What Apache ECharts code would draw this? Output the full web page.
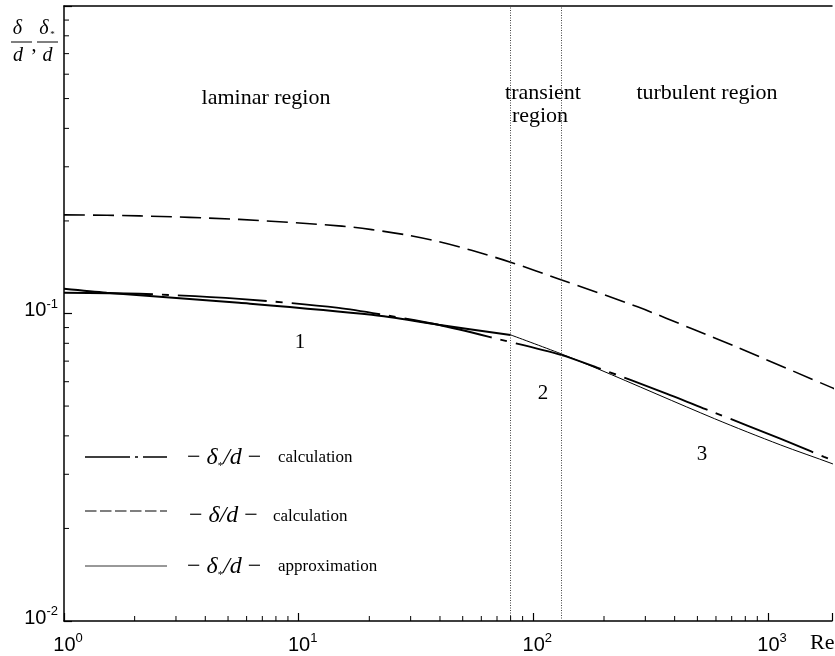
<!DOCTYPE html>
<html>
<head>
<meta charset="utf-8">
<script src="https://cdn.jsdelivr.net/npm/echarts@6/dist/echarts.min.js"></script>
<style>html,body{margin:0;padding:0;background:#fff;}#c{width:835px;height:656px;}</style>
</head>
<body>
<div id="c"></div>
<script>
// ---- data ----
const deltaRe   = [1, 2.1, 5.58, 14.8, 20.5, 28.6, 39.4, 54.5, 80.5, 131, 278, 486, 740, 1870, 2000];
const deltaCalc = [0.2093, 0.2077, 0.2023, 0.1928, 0.1874, 0.1802, 0.1713, 0.1605, 0.1466, 0.1288, 0.1051, 0.0885, 0.0776, 0.0574, 0.0561];

const dispRe   = [1, 2.1, 5.58, 14.8, 24.2, 39.4, 73, 131, 188, 362, 591, 1127, 1732, 2000];
const dispCalc = [0.1168, 0.1159, 0.1116, 0.1043, 0.0983, 0.0919, 0.0821, 0.0734, 0.0666, 0.0552, 0.0476, 0.0392, 0.0342, 0.0327];

const approxLamRe = [1, 1.52, 5.58, 20.5, 39.4, 80];
const approxLam   = [0.1203, 0.1168, 0.1083, 0.0990, 0.0919, 0.0852];

const approxTurbRe = [80, 131, 188, 591, 1127, 1873, 2000];
const approxTurb   = [0.0852, 0.0740, 0.0661, 0.0455, 0.0374, 0.0325, 0.0318];

const regionBounds = [80, 131];

const minorX = [2,3,4,5,6,7,8,9,20,30,40,50,60,70,80,90,200,300,400,500,600,700,800,900];
const minorY = [0.02,0.03,0.04,0.05,0.06,0.07,0.08,0.09,0.2,0.3,0.4,0.5,0.6,0.7,0.8,0.9];

const xRange = [1, 1873];
const yRange = [0.01, 1];

// ---- chart ----
const SERIF = '"Liberation Serif", "Times New Roman", serif';
const SANS = '"Liberation Sans", Arial, sans-serif';
const zip = (a, b) => a.map((v, i) => [v, b[i]]);
const chart = echarts.init(document.getElementById('c'), null, {renderer: 'canvas'});

function powLabel(v) {
  const l = Math.log10(v);
  const e = Math.round(l);
  if (Math.abs(l - e) > 1e-6) return '';
  return '{b|10}{s|' + e + '}';
}
const labelRich = {
  b: {fontSize: 20, fontFamily: SANS, color: '#000', lineHeight: 26},
  s: {fontSize: 13, fontFamily: SANS, color: '#000', lineHeight: 12, verticalAlign: 'top'}
};

function txt(x, y, text, font, align) {
  return {type: 'text', x: x, y: y, silent: true,
    style: {text: text, font: font, fill: '#000', textAlign: align || 'center', textVerticalAlign: 'middle',
            align: align || 'center', verticalAlign: 'middle'}};
}
function ln(x1, y1, x2, y2, w, dash, color) {
  return {type: 'line', silent: true, shape: {x1: x1, y1: y1, x2: x2, y2: y2},
    style: {stroke: color || '#000', lineWidth: w, lineDash: dash || null}};
}
const mathRich = {
  m: {fontFamily: SERIF, fontSize: 24, color: '#000', lineHeight: 28},
  i: {fontFamily: SERIF, fontStyle: 'italic', fontSize: 24, color: '#000', lineHeight: 28},
  s: {fontFamily: SERIF, fontSize: 11, color: '#000', lineHeight: 10, verticalAlign: 'bottom'}
};
function mathTxt(x, y, text) {
  return {type: 'text', x: x, y: y, silent: true,
    style: {text: text, rich: mathRich, fill: '#000', textAlign: 'left', textVerticalAlign: 'middle',
            align: 'left', verticalAlign: 'middle'}};
}

const tickSeries = (data, dir) => ({
  type: 'custom', silent: true, clip: false, z: 5,
  data: data,
  renderItem: function (params, api) {
    const p = api.coord([api.value(0), api.value(1)]);
    const shape = dir === 'x'
      ? {x1: p[0], y1: p[1], x2: p[0], y2: p[1] - 5}
      : {x1: p[0], y1: p[1], x2: p[0] + 5, y2: p[1]};
    return {type: 'line', shape: shape, style: {stroke: '#000', lineWidth: 1}};
  }
});

const option = {
  animation: false,
  backgroundColor: '#fff',
  grid: {left: 64, right: 0, top: 6, bottom: 35, show: false},
  xAxis: [{
    type: 'log', logBase: 10, min: xRange[0], max: xRange[1],
    axisLine: {show: true, lineStyle: {color: '#000', width: 1.5}},
    axisTick: {show: true, inside: true, length: 8, lineStyle: {color: '#000', width: 1.2}},
    splitLine: {show: false},
    axisLabel: {show: true, margin: 11, formatter: powLabel, rich: labelRich, padding: [0, 0, 0, 8]}
  }, {
    type: 'value', position: 'top', min: 0, max: 1,
    axisLine: {show: true, lineStyle: {color: '#000', width: 1.5}},
    axisTick: {show: false}, axisLabel: {show: false}, splitLine: {show: false}
  }],
  yAxis: {
    type: 'log', logBase: 10, min: yRange[0], max: yRange[1],
    axisLine: {show: true, lineStyle: {color: '#000', width: 1.5}},
    axisTick: {show: true, inside: true, length: 8, lineStyle: {color: '#000', width: 1.2}},
    splitLine: {show: false},
    axisLabel: {show: true, margin: 6, formatter: v => (Math.abs(v - 1) < 1e-9 ? '' : powLabel(v)), rich: labelRich, padding: [0, 0, 6, 0]}
  },
  series: [
    {
      name: 'delta calc', type: 'line', data: zip(deltaRe, deltaCalc), showSymbol: false, symbol: 'none',
      smooth: 0.3, lineStyle: {color: '#000', width: 1.6, type: [21, 8]}, z: 3,
      markLine: {
        silent: true, symbol: ['none', 'none'], label: {show: false},
        lineStyle: {color: '#444', width: 1, type: [1, 1.5]},
        data: regionBounds.map(v => ({xAxis: v}))
      }
    },
    {
      name: 'delta* calc', type: 'line', data: zip(dispRe, dispCalc), showSymbol: false, symbol: 'none',
      smooth: 0.3, lineStyle: {color: '#000', width: 1.9, type: [89, 9, 7, 9]}, z: 3
    },
    {
      name: 'delta* approx laminar', type: 'line', data: zip(approxLamRe, approxLam), showSymbol: false, symbol: 'none',
      smooth: 0.3, lineStyle: {color: '#000', width: 2}, z: 3
    },
    {
      name: 'delta* approx turbulent', type: 'line', data: zip(approxTurbRe, approxTurb), showSymbol: false, symbol: 'none',
      smooth: 0.3, lineStyle: {color: '#000', width: 1}, z: 3
    },
    tickSeries(minorX.map(v => [v, yRange[0]]), 'x'),
    tickSeries(minorY.map(v => [xRange[0], v]), 'y')
  ],
  graphic: [
    // y-axis title: delta/d , delta*/d
    txt(17.5, 29, 'δ', 'italic 20px ' + SERIF),
    ln(11, 42, 32, 42, 1),
    txt(18, 56, 'd', 'italic 20px ' + SERIF),
    txt(34, 46, ',', '20px ' + SERIF),
    txt(44, 29, 'δ', 'italic 20px ' + SERIF),
    txt(52.5, 35, '*', '9px ' + SERIF),
    ln(37, 42, 58, 42, 1),
    txt(47.5, 56, 'd', 'italic 20px ' + SERIF),
    // x-axis title Re*
    {type: 'text', x: 810, y: 643, silent: true,
     style: {text: '{a|Re}{b|*}', rich: {a: {fontFamily: SERIF, fontSize: 22, color: '#000', lineHeight: 24},
             b: {fontFamily: SERIF, fontSize: 9, color: '#000', lineHeight: 8, verticalAlign: 'bottom'}},
             textAlign: 'left', textVerticalAlign: 'middle', align: 'left', verticalAlign: 'middle'}},
    // region labels
    txt(266, 98, 'laminar region', '22px ' + SERIF),
    txt(543, 93, 'transient', '22px ' + SERIF),
    txt(540, 116, 'region', '22px ' + SERIF),
    txt(707, 93, 'turbulent region', '22px ' + SERIF),
    txt(300, 342, '1', '21px ' + SERIF),
    txt(543, 393, '2', '21px ' + SERIF),
    txt(702, 454, '3', '21px ' + SERIF),
    // legend
    ln(85, 457, 167, 457, 1.3, [45, 5, 3, 5, 40]),
    mathTxt(187, 458, '{m|− }{i|δ}{s|*}{i|/d}{m| −}'),
    txt(278, 458, 'calculation', '17px ' + SERIF, 'left'),
    ln(85, 511, 167, 511, 1.2, [11.5, 3.5]),
    mathTxt(189, 516, '{m|− }{i|δ/d}{m| −}'),
    txt(273, 517, 'calculation', '17px ' + SERIF, 'left'),
    ln(85, 566, 167, 566, 1, null, '#333'),
    mathTxt(187, 567, '{m|− }{i|δ}{s|*}{i|/d}{m| −}'),
    txt(278, 567, 'approximation', '17px ' + SERIF, 'left')
  ]
};
chart.setOption(option);
</script>
</body>
</html>
